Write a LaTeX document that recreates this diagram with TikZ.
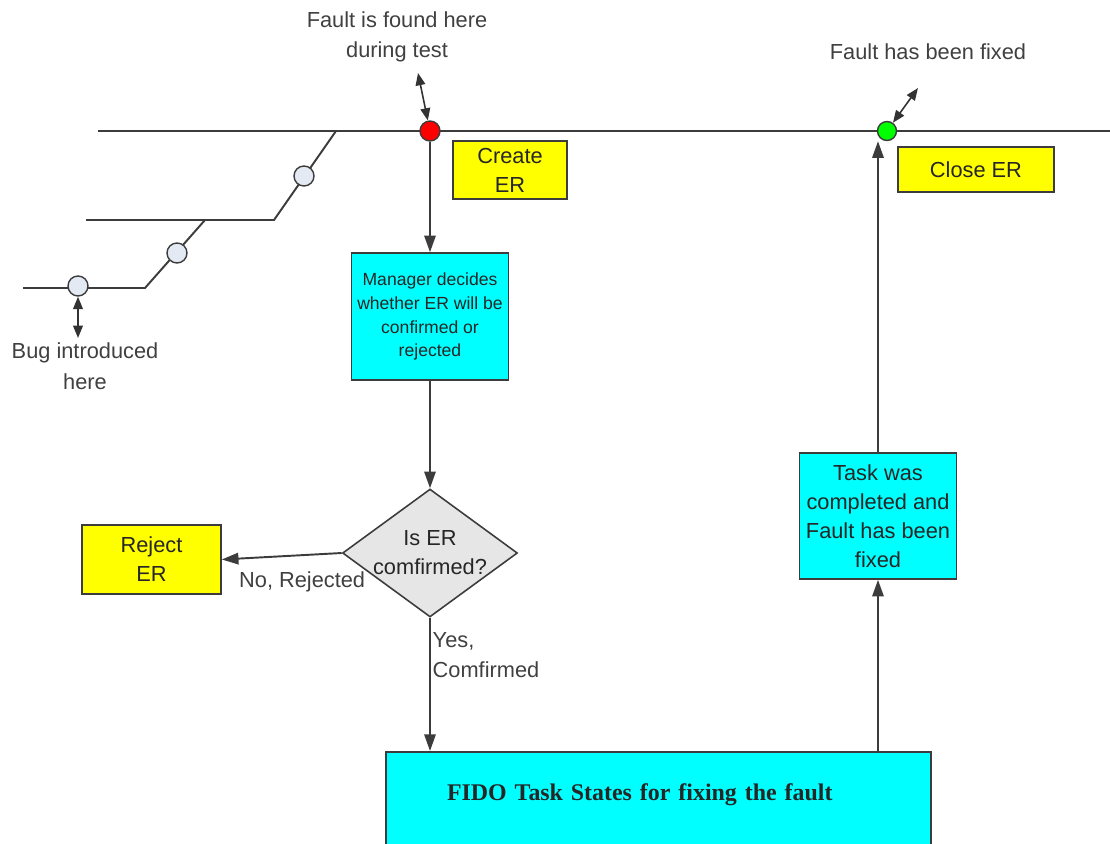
\documentclass[tikz,border=0pt]{standalone}
\usepackage{fontspec}
\setmainfont{Liberation Sans}
\newfontfamily\fidofont{Liberation Serif}
\usetikzlibrary{shapes.geometric,arrows.meta}

\definecolor{erYellow}{HTML}{FFFF00}
\definecolor{erCyan}{HTML}{00FFFF}
\definecolor{edgeGray}{HTML}{3C3C3C}
\definecolor{lblGray}{HTML}{404040}
\definecolor{dotBlue}{HTML}{E4EAF4}
\definecolor{decGray}{HTML}{E6E6E6}

\tikzset{
  box/.style={draw=edgeGray, line width=0.9pt, align=center, inner sep=0pt,
    text=black!85, font=\fontsize{12.4}{16.6}\selectfont},
  yellowbox/.style={box, fill=erYellow},
  cyanbox/.style={box, fill=erCyan},
  dot/.style={circle, draw=edgeGray, line width=0.8pt, minimum size=0.4cm, inner sep=0pt},
  lbl/.style={align=center, text=lblGray, font=\fontsize{12.4}{17.4}\selectfont},
  flow/.style={draw=edgeGray, line width=1.1pt, -{Triangle[length=9.5pt,width=6.5pt]}},
  twoway/.style={draw=black!80, line width=0.9pt,
    {Triangle[length=7pt,width=5.5pt]}-{Triangle[length=7pt,width=5.5pt]}},
  track/.style={draw=edgeGray, line width=1.1pt},
}

\begin{document}
\begin{tikzpicture}[x=0.02cm, y=-0.02cm]
  \path[use as bounding box, clip] (0,0) rectangle (1110,843);

  % Tracks
  \draw[track] (98,131) -- (1110,131);
  \draw[track] (86,220) -- (274,220) -- (336,131);
  \draw[track] (23,288) -- (145,288) -- (205,220);

  % Nodes
  \node[dot, fill=dotBlue] (bug1) at (78,286) {};
  \node[dot, fill=dotBlue] (bug2) at (177,253) {};
  \node[dot, fill=dotBlue] (bug3) at (304,176) {};
  \node[dot, fill=red] (found) at (430,131) {};
  \node[dot, fill=green, minimum size=0.38cm] (fixed) at (887,131) {};

  \node[lbl] (foundlbl) at (397,37) {Fault is found here\\during test};
  \node[lbl] (fixedlbl) at (928,52) {Fault has been fixed};
  \node[lbl] (buglbl) at (85,366) {Bug introduced\\here};

  \node[yellowbox, minimum width=2.28cm, minimum height=1.16cm] (create) at (510,170) {Create\\ER};
  \node[yellowbox, minimum width=3.12cm, minimum height=0.9cm] (close) at (976,169.5) {Close ER};
  \node[cyanbox, minimum width=3.14cm, minimum height=2.54cm,
    font=\fontsize{10}{13.6}\selectfont] (mgr) at (430,316.5)
    {Manager decides\\whether ER will be\\confirmed or\\rejected};
  \node[box, diamond, shape aspect=1.37, inner sep=-1pt, fill=decGray,
    minimum width=3.5cm, minimum height=2.56cm] (dec) at (430,553) {Is ER\\comfirmed?};
  \node[yellowbox, minimum width=2.78cm, minimum height=1.38cm] (reject) at (151.5,559.5) {Reject\\ER};
  \node[cyanbox, minimum width=3.14cm, minimum height=2.52cm] (task) at (878,516)
    {Task was\\completed and\\Fault has been\\fixed};
  \node[cyanbox, anchor=north, minimum width=10.9cm, text width=8.46cm, inner xsep=1.22cm,
    inner ysep=0pt, text height=0.98cm, text depth=1.6cm, align=left,
    font=\fidofont\bfseries\fontsize{13.6}{16}\selectfont] (fido) at (658.5,751)
    {FIDO Task States for fixing the fault};

  % Edges
  \coordinate (foundptr) at (418,73);
  \coordinate (fixedptr) at (918,88);
  \coordinate (bugptr) at (78,338);
  \draw[twoway] (foundptr) -- (found);
  \draw[twoway] (fixedptr) -- (fixed);
  \draw[twoway] (bug1) -- (bugptr);
  \draw[flow] (found) -- (mgr);
  \draw[flow] (mgr) -- (dec);
  \draw[flow] (dec.west) -- (reject.east)
    node[pos=0.33, below=0.2cm, lbl] {No, Rejected};
  \draw[flow] (dec.south) -- (dec.south |- fido.north)
    node[pos=0.28, right, inner xsep=1pt, lbl, align=left] {Yes,\\Comfirmed};
  \draw[flow] (task |- fido.north) -- (task);
  \draw[flow] (task) -- (task.north |- fixed.south);
\end{tikzpicture}
\end{document}
